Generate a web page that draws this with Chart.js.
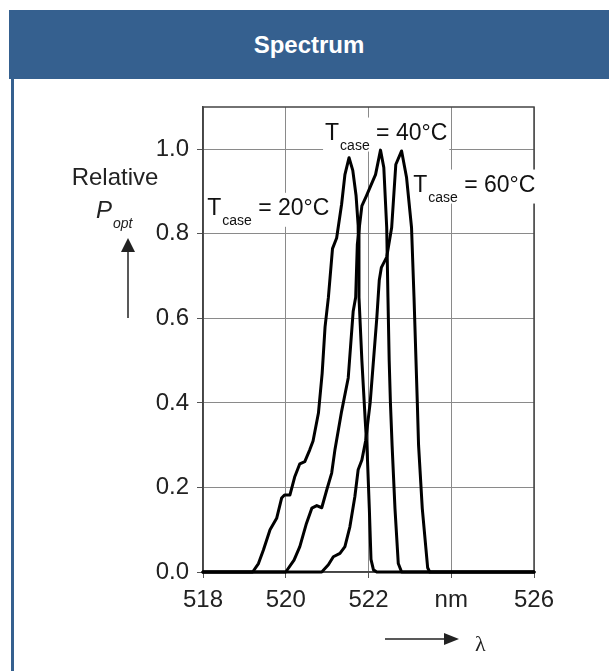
<!DOCTYPE html>
<html>
<head>
<meta charset="utf-8">
<title>Spectrum</title>
<script src="https://cdn.jsdelivr.net/npm/chart.js@4.4.1/dist/chart.umd.min.js"></script>
<style>
  html, body { margin: 0; padding: 0; background: #fff; }
  body { width: 609px; height: 671px; position: relative; overflow: hidden; font-family: "Liberation Sans", Arial, sans-serif; }
  .header { position: absolute; left: 9px; top: 10px; width: 600px; height: 69px; background: #35608f; color: #fff;
            font-weight: bold; font-size: 24px; line-height: 69px; text-align: center; }
  .side { position: absolute; left: 11px; top: 79px; width: 3px; height: 600px; background: #35608f; }
  #chart { position: absolute; left: 0; top: 0; }
</style>
</head>
<body>
<div class="header">Spectrum</div>
<div class="side"></div>
<canvas id="chart" width="609" height="671"></canvas>
<script>
const xTickValues = [518, 520, 522, 524, 526];
const xTickLabels = ['518', '520', '522', 'nm', '526'];
const yTickValues = [0, 0.2, 0.4, 0.6, 0.8, 1.0];
const caseTemps = ['20', '40', '60'];

// spectra: wavelength (nm) / relative optical power
const wavelength20 = [518.0, 519.2, 519.34, 519.46, 519.62, 519.78, 519.9, 519.97, 520.1, 520.22, 520.34, 520.46, 520.58, 520.66, 520.79, 520.88, 520.95, 521.03, 521.13, 521.23, 521.35, 521.43, 521.53, 521.62, 521.7, 521.75, 521.77, 521.84, 521.92, 521.97, 522.02, 522.06, 522.12, 522.2, 526.0];
const power20 = [0, 0, 0.02, 0.052, 0.1, 0.127, 0.175, 0.182, 0.182, 0.226, 0.256, 0.261, 0.289, 0.31, 0.376, 0.47, 0.58, 0.649, 0.765, 0.79, 0.87, 0.94, 0.98, 0.95, 0.89, 0.82, 0.65, 0.5, 0.36, 0.28, 0.15, 0.03, 0.005, 0, 0];

const wavelength40 = [518.0, 520.0, 520.2, 520.34, 520.5, 520.63, 520.75, 520.87, 520.99, 521.11, 521.19, 521.35, 521.51, 521.63, 521.69, 521.73, 521.84, 521.95, 522.05, 522.17, 522.29, 522.37, 522.44, 522.47, 522.5, 522.53, 522.57, 522.64, 522.72, 522.8, 526.0];
const power40 = [0, 0, 0.028, 0.06, 0.115, 0.151, 0.157, 0.152, 0.194, 0.234, 0.29, 0.38, 0.459, 0.617, 0.65, 0.775, 0.866, 0.89, 0.913, 0.94, 0.998, 0.957, 0.815, 0.65, 0.5, 0.4, 0.3, 0.15, 0.02, 0, 0];

const wavelength60 = [518.0, 520.87, 521.03, 521.15, 521.31, 521.43, 521.55, 521.67, 521.75, 521.84, 521.93, 522.04, 522.2, 522.26, 522.31, 522.44, 522.56, 522.66, 522.8, 522.92, 523.04, 523.1, 523.18, 523.21, 523.3, 523.43, 523.48, 526.0];
const power60 = [0, 0, 0.017, 0.036, 0.044, 0.06, 0.107, 0.178, 0.242, 0.265, 0.31, 0.4, 0.6, 0.69, 0.72, 0.745, 0.815, 0.964, 0.996, 0.933, 0.815, 0.65, 0.4, 0.3, 0.15, 0.01, 0, 0];

// where each curve's "Tcase = ..°C" label starts (data units)
const labelAnchors = [[518.1, 0.845], [520.95, 1.023], [523.08, 0.9]];

const FONT = '"Liberation Sans", Arial, sans-serif';

function toPoints(xs, ys) {
    return xs.map((x, i) => ({ x: x, y: ys[i] }));
}

function curve(xs, ys) {
    return {
        data: toPoints(xs, ys),
        borderColor: '#000',
        borderWidth: 3,
        borderJoinStyle: 'round',
        borderCapStyle: 'round',
        pointRadius: 0,
        tension: 0,
        clip: 4
    };
}

function drawCaseLabel(ctx, x, y, temp) {
    ctx.font = '23px ' + FONT;
    const tW = ctx.measureText('T').width;
    const rest = ' = ' + temp + '°C';
    const restW = ctx.measureText(rest).width;
    ctx.font = '14px ' + FONT;
    const caseW = ctx.measureText('case').width;
    const total = tW + caseW + restW;

    ctx.fillStyle = '#fff';
    ctx.fillRect(x - 2, y - 22, total + 5, 34);

    ctx.fillStyle = '#111';
    ctx.textBaseline = 'alphabetic';
    ctx.textAlign = 'left';
    ctx.font = '23px ' + FONT;
    ctx.fillText('T', x, y);
    ctx.font = '14px ' + FONT;
    ctx.fillText('case', x + tW + 1, y + 10);
    ctx.font = '23px ' + FONT;
    ctx.fillText(rest, x + tW + caseW + 1, y);
}

function arrowHead(ctx, tipX, tipY, dx, dy, len, half) {
    // dx/dy: unit direction the arrow points to
    const bx = tipX - dx * len, by = tipY - dy * len;
    ctx.beginPath();
    ctx.moveTo(tipX, tipY);
    ctx.lineTo(bx - dy * half, by + dx * half);
    ctx.lineTo(bx + dy * half, by - dx * half);
    ctx.closePath();
    ctx.fill();
}

const decor = {
    id: 'decor',
    beforeDatasetsDraw(chart) {
        const ctx = chart.ctx;
        const a = chart.chartArea;
        const xs = chart.scales.x, ys = chart.scales.y;
        ctx.save();
        ctx.strokeStyle = '#444';
        ctx.lineWidth = 1.5;
        ctx.strokeRect(a.left, a.top, a.right - a.left, a.bottom - a.top);
        labelAnchors.forEach((p, i) => {
            drawCaseLabel(ctx, xs.getPixelForValue(p[0]), ys.getPixelForValue(p[1]), caseTemps[i]);
        });
        ctx.restore();
    },
    afterDraw(chart) {
        const ctx = chart.ctx;
        const a = chart.chartArea;
        ctx.save();
        ctx.fillStyle = '#222';
        ctx.strokeStyle = '#222';
        ctx.textBaseline = 'alphabetic';

        // y axis title: Relative P_opt with upward arrow
        ctx.textAlign = 'center';
        ctx.font = '24px ' + FONT;
        ctx.fillText('Relative', a.left - 88, a.top + 78);
        ctx.textAlign = 'left';
        ctx.font = 'italic 24px ' + FONT;
        ctx.fillText('P', a.left - 107, a.top + 111);
        ctx.font = 'italic 14px ' + FONT;
        ctx.fillText('opt', a.left - 90, a.top + 121);

        ctx.lineWidth = 1.5;
        ctx.beginPath();
        ctx.moveTo(a.left - 75, a.top + 211);
        ctx.lineTo(a.left - 75, a.top + 142);
        ctx.stroke();
        arrowHead(ctx, a.left - 75, a.top + 131, 0, -1, 14, 7);

        // x axis: arrow and lambda
        ctx.beginPath();
        ctx.moveTo(a.left + 182, a.bottom + 67);
        ctx.lineTo(a.left + 244, a.bottom + 67);
        ctx.stroke();
        arrowHead(ctx, a.left + 256, a.bottom + 67, 1, 0, 15, 6);
        ctx.font = '22px "Liberation Serif", "DejaVu Serif", serif';
        ctx.fillText('λ', a.left + 272, a.bottom + 79);
        ctx.restore();
    }
};

const tickFont = { family: FONT, size: 24 };

const ctx = document.getElementById('chart').getContext('2d');
const spectrumChart = new Chart(ctx, {
    type: 'line',
    data: {
        datasets: [
            curve(wavelength20, power20),
            curve(wavelength40, power40),
            curve(wavelength60, power60)
        ]
    },
    options: {
        responsive: false,
        animation: false,
        devicePixelRatio: 1,
        layout: { padding: { left: 0, top: 107, right: 75, bottom: 0 } },
        plugins: {
            legend: { display: false },
            tooltip: { enabled: false }
        },
        scales: {
            x: {
                type: 'linear',
                min: 518,
                max: 526,
                afterBuildTicks: (scale) => { scale.ticks = xTickValues.map(v => ({ value: v })); },
                afterFit: (scale) => { scale.height = 99; },
                ticks: {
                    autoSkip: false,
                    maxRotation: 0,
                    color: '#222',
                    font: tickFont,
                    padding: 8,
                    callback: (value) => xTickLabels[xTickValues.indexOf(value)]
                },
                grid: { color: '#8a8a8a', lineWidth: 1, tickLength: 6, tickColor: '#555' },
                border: { color: '#444', width: 1.5 }
            },
            y: {
                min: 0,
                max: 1.1,
                afterBuildTicks: (scale) => { scale.ticks = yTickValues.map(v => ({ value: v })); },
                afterFit: (scale) => { scale.width = 203; },
                ticks: {
                    color: '#222',
                    font: tickFont,
                    padding: 8,
                    callback: (value) => value.toFixed(1)
                },
                grid: { color: '#8a8a8a', lineWidth: 1, tickLength: 6, tickColor: '#555' },
                border: { color: '#444', width: 1.5 }
            }
        }
    },
    plugins: [decor]
});
</script>
</body>
</html>
